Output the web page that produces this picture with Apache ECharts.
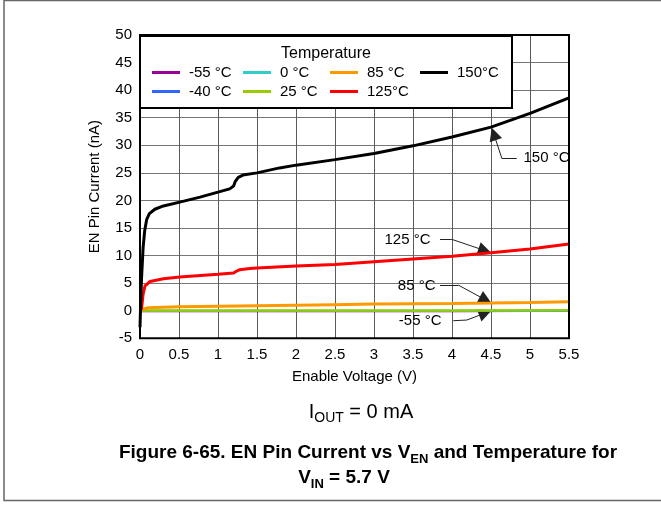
<!DOCTYPE html>
<html><head><meta charset="utf-8">
<script src="https://cdn.jsdelivr.net/npm/echarts@6/dist/echarts.min.js"></script>
<style>html,body{margin:0;padding:0;background:#fff}#c{width:661px;height:508px}</style>
</head><body><div id="c"></div>
<script>
// ---- data ----
const seriesNames = ['-55 °C', '-40 °C', '0 °C', '25 °C', '85 °C', '125°C', '150°C'];
const seriesColors = ['#990099', '#3366ff', '#33cccc', '#99cc00', '#ff9900', '#ff0000', '#000000'];

const vM55 = [0, 1, 2, 3, 4, 5, 5.5];
const iM55 = [-0.1, -0.1, -0.1, -0.08, -0.08, -0.06, -0.06];
const vM40 = [0, 1, 2, 3, 4, 5, 5.5];
const iM40 = [-0.05, -0.05, -0.04, -0.04, -0.03, -0.03, -0.03];
const v0 = [0, 1, 2, 3, 4, 5, 5.5];
const i0 = [0, 0, 0, 0.01, 0.01, 0.01, 0.02];
const v25 = [0, 1, 2, 3, 4, 5, 5.5];
const i25 = [0.02, 0.03, 0.04, 0.05, 0.06, 0.07, 0.08];
const v85 = [0, 0.02, 0.1, 0.5, 1, 1.5, 2, 2.5, 3, 3.5, 4, 4.5, 5, 5.5];
const i85 = [0, 0.35, 0.55, 0.7, 0.8, 0.9, 1.0, 1.1, 1.2, 1.25, 1.3, 1.38, 1.5, 1.65];
const v125 = [0, 0.02, 0.04, 0.064, 0.13, 0.3, 0.51, 1.0, 1.2, 1.24, 1.28, 1.41, 1.5, 2, 2.5, 3, 3.5, 4, 4.5, 5, 5.5];
const i125 = [0, 0.4, 3.0, 4.5, 5.3, 5.8, 6.1, 6.6, 6.85, 7.2, 7.45, 7.65, 7.75, 8.1, 8.4, 8.9, 9.4, 9.9, 10.5, 11.2, 12.1];
const v150 = [0, 0.01, 0.02, 0.04, 0.06, 0.085, 0.12, 0.19, 0.3, 0.51, 0.77, 1.0, 1.15, 1.2, 1.22, 1.26, 1.32, 1.5, 1.79, 2, 2.5, 3, 3.5, 4, 4.5, 5, 5.5];
const i150 = [-3, 2, 6, 11.5, 14.5, 16.5, 17.6, 18.4, 19.0, 19.7, 20.6, 21.5, 22.1, 22.6, 23.4, 24.2, 24.6, 25.0, 25.9, 26.4, 27.4, 28.5, 29.9, 31.5, 33.3, 35.8, 38.6];

const xTicks = [0, 0.5, 1, 1.5, 2, 2.5, 3, 3.5, 4, 4.5, 5, 5.5];
const yTicks = [-5, 0, 5, 10, 15, 20, 25, 30, 35, 40, 45, 50];

// annotations: label text, label anchor, leader segments [start, bend, arrow end]
const annoLabels = ['150 °C', '125 °C', '85 °C', '-55 °C'];
const annoLabelAt = [[4.897, 27.7], [3.744, 12.8], [3.808, 4.6], [3.885, -1.8]];
const annoPaths = [
  [[4.83, 27.6], [4.64, 27.6], [4.536, 32.05]],
  [[3.846, 12.95], [3.996, 12.95], [4.42, 10.92]],
  [[3.846, 4.66], [4.08, 4.66], [4.431, 1.96]],
  [[4.017, -1.81], [4.19, -1.69], [4.426, -0.43]]
];

// ---- build ----
const xs = [vM55, vM40, v0, v25, v85, v125, v150];
const ys = [iM55, iM40, i0, i25, i85, i125, i150];
const widths = [2, 2, 2, 2.5, 3, 3, 3];
const FONT = 'Arial, "Liberation Sans", sans-serif';

const series = seriesNames.map((n, k) => ({
  name: n, type: 'line', showSymbol: false, symbol: 'none',
  data: xs[k].map((x, j) => [x, ys[k][j]]),
  lineStyle: { color: seriesColors[k], width: widths[k] },
  itemStyle: { color: seriesColors[k] },
  emphasis: { disabled: true }, silent: true, z: 3 + k
}));

const mlData = [];
annoPaths.forEach(p => {
  mlData.push([{ coord: p[0], symbol: 'none' }, { coord: p[1], symbol: 'none' }]);
  mlData.push([{ coord: p[1], symbol: 'none' }, { coord: p[2], symbol: 'triangle', symbolSize: 13 }]);
});
series[6].markLine = {
  silent: true, animation: false, symbol: ['none', 'none'],
  label: { show: false }, emphasis: { disabled: true },
  lineStyle: { color: '#222', width: 1, type: 'solid' },
  data: mlData
};
series[6].markPoint = {
  silent: true, animation: false, symbol: 'rect', symbolSize: 1,
  itemStyle: { color: 'rgba(0,0,0,0)' },
  data: annoLabels.map((t, k) => ({
    name: t, coord: annoLabelAt[k],
    label: { show: true, formatter: '{b}', position: k === 0 ? 'right' : 'left', distance: 1,
      color: '#000', fontSize: 15, fontFamily: FONT }
  }))
};

const legendCols = [[0, 1], [2, 3], [4, 5], [6]];
const legendLeft = [152, 243, 330, 420];
const legends = legendCols.map((c, k) => ({
  orient: 'vertical', left: legendLeft[k], top: 64, itemGap: 2, padding: 0,
  itemWidth: 28, itemHeight: 3, icon: 'rect', selectedMode: false, z: 20,
  data: c.map(i => seriesNames[i]),
  textStyle: { fontSize: 15, fontFamily: FONT, color: '#000', lineHeight: 17, padding: [0, 0, 0, 4] }
}));

const chart = echarts.init(document.getElementById('c'), null, { renderer: 'canvas' });
chart.setOption({
  animation: false,
  backgroundColor: '#fff',
  grid: { left: 140, right: 92, top: 35, bottom: 169.7, show: true, borderColor: '#000', borderWidth: 2, z: 10 },
  xAxis: {
    type: 'value', min: xTicks[0], max: xTicks[xTicks.length - 1], interval: 0.5,
    axisLine: { show: false }, axisTick: { show: false },
    axisLabel: { color: '#000', fontSize: 15, fontFamily: FONT, margin: 9, formatter: v => String(v) },
    splitLine: { show: true, lineStyle: { color: '#5a5a5a', width: 1 } },
    name: 'Enable Voltage (V)', nameLocation: 'middle', nameGap: 31,
    nameTextStyle: { color: '#000', fontSize: 15, fontFamily: FONT }
  },
  yAxis: {
    type: 'value', min: yTicks[0], max: yTicks[yTicks.length - 1], interval: 5,
    axisLine: { show: false }, axisTick: { show: false },
    axisLabel: { color: '#000', fontSize: 15, fontFamily: FONT, margin: 8 },
    splitLine: { show: true, lineStyle: { color: '#777', width: 1 } },
    name: 'EN Pin Current (nA)', nameLocation: 'middle', nameGap: 38, nameRotate: 90,
    nameTextStyle: { color: '#000', fontSize: 15, fontFamily: FONT }
  },
  legend: legends,
  series: series,
  graphic: [
    { type: 'rect', shape: { x: 140, y: 36, width: 372, height: 72 }, z: 15,
      style: { fill: '#fff', stroke: '#000', lineWidth: 2 } },
    { type: 'text', x: 326, y: 54, z: 16,
      style: { text: 'Temperature', fontSize: 16, fontFamily: FONT, fill: '#000', align: 'center', verticalAlign: 'middle' } },
    { type: 'rect', shape: { x: 4, y: 0.5, width: 700, height: 500 }, z: 0, silent: true,
      style: { fill: 'none', stroke: '#666', lineWidth: 1.5 } },
    { type: 'text', x: 361, y: 412, z: 16,
      style: { text: '{a|I}{b|OUT}{a| = 0 mA}', align: 'center', verticalAlign: 'middle',
        rich: { a: { fontSize: 20, fontFamily: FONT, fill: '#000', lineHeight: 26, verticalAlign: 'middle' },
                b: { fontSize: 14, fontFamily: FONT, fill: '#000', lineHeight: 26, verticalAlign: 'bottom' } } } },
    { type: 'text', x: 368, y: 453, z: 16,
      style: { text: '{a|Figure 6-65. EN Pin Current vs V}{b|EN}{a| and Temperature for}', align: 'center', verticalAlign: 'middle',
        rich: { a: { fontSize: 19, fontWeight: 'bold', fontFamily: FONT, fill: '#000', lineHeight: 26, verticalAlign: 'middle' },
                b: { fontSize: 13, fontWeight: 'bold', fontFamily: FONT, fill: '#000', lineHeight: 26, verticalAlign: 'bottom' } } } },
    { type: 'text', x: 344, y: 478, z: 16,
      style: { text: '{a|V}{b|IN}{a| = 5.7 V}', align: 'center', verticalAlign: 'middle',
        rich: { a: { fontSize: 19, fontWeight: 'bold', fontFamily: FONT, fill: '#000', lineHeight: 26, verticalAlign: 'middle' },
                b: { fontSize: 13, fontWeight: 'bold', fontFamily: FONT, fill: '#000', lineHeight: 26, verticalAlign: 'bottom' } } } }
  ]
});
</script>
</body></html>
